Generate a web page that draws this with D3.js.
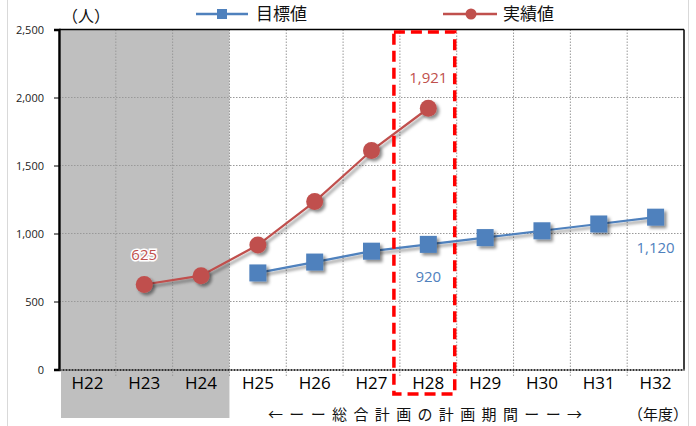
<!DOCTYPE html>
<html><head><meta charset="utf-8">
<script src="https://cdn.jsdelivr.net/npm/d3@7"></script>
<style>
body{margin:0;background:#fff;}
svg{display:block;}
text{font-family:"Noto Sans CJK JP","Noto Sans",sans-serif;}
</style></head>
<body>
<svg id="c" width="696" height="426"></svg>
<script>
const categories = ["H22","H23","H24","H25","H26","H27","H28","H29","H30","H31","H32"];
const targetValues = [null,null,null,710,790,870,920,970,1020,1070,1120];
const actualValues = [null,625,690,915,1235,1610,1921,null,null,null,null];
const yTicks = [0,500,1000,1500,2000,2500];
const shadedCategories = ["H22","H23","H24"];
const highlightCategory = "H28";
const targetLabels = [{cat:"H28", text:"920"},{cat:"H32", text:"1,120"}];
const actualLabels = [{cat:"H23", text:"625"},{cat:"H28", text:"1,921"}];

const blue = "#4F81BD", red = "#C0504D";
const svg = d3.select("#c");
const L = 59, R = 684, T = 29.5, B = 369.5;

const x = d3.scaleBand().domain(categories).range([L, R]);
const y = d3.scaleLinear().domain([0, 2500]).range([B, T]);

const defs = svg.append("defs");
const f = defs.append("filter").attr("id","sh").attr("x","-50%").attr("y","-50%").attr("width","200%").attr("height","200%");
f.append("feDropShadow").attr("dx",2.5).attr("dy",2.5).attr("stdDeviation",1.8).attr("flood-color","#000").attr("flood-opacity",0.45);

// outer border
svg.append("rect").attr("x",7.5).attr("y",-2).attr("width",681).attr("height",440).attr("fill","none").attr("stroke","#d9d9d9");

// shaded region
const s0 = x(shadedCategories[0]), s1 = x(shadedCategories[shadedCategories.length-1]) + x.bandwidth();
svg.append("rect").attr("x",s0+2).attr("y",T).attr("width",s1-s0-2).attr("height",418-T).attr("fill","#BFBFBF");

// grid
const g = svg.append("g");
yTicks.slice(1,-1).forEach(v=>{
  g.append("line").attr("x1",L).attr("x2",R).attr("y1",y(v)).attr("y2",y(v))
   .attr("stroke","#999").attr("stroke-dasharray","1.5,1.5").attr("stroke-width",1);
});
categories.slice(1).forEach(c=>{
  g.append("line").attr("x1",x(c)).attr("x2",x(c)).attr("y1",T).attr("y2",B+7)
   .attr("stroke","#999").attr("stroke-dasharray","1.5,1.5").attr("stroke-width",1);
});

// frame
svg.append("line").attr("x1",L).attr("x2",R).attr("y1",T).attr("y2",T).attr("stroke","#000").attr("stroke-width",1.5);
svg.append("line").attr("x1",R).attr("x2",R).attr("y1",T).attr("y2",B).attr("stroke","#000").attr("stroke-width",1.5);

// y axis
const yAxis = d3.axisLeft(y).tickValues(yTicks).tickSize(5).tickPadding(10).tickFormat(d3.format(","));
const ya = svg.append("g").attr("transform",`translate(${L},0)`).call(yAxis);
ya.select(".domain").attr("stroke","#000").attr("stroke-width",2.5);
ya.selectAll(".tick line").attr("stroke","#000");
ya.selectAll("text").attr("font-size",11).attr("fill","#222").style("font-family","'Open Sans',sans-serif");

// x axis
const xAxis = d3.axisBottom(x).tickSize(0).tickPadding(7);
const xa = svg.append("g").attr("transform",`translate(0,${B})`).call(xAxis);
xa.select(".domain").attr("stroke","#333").attr("stroke-width",2).attr("stroke-dasharray","2,1");
xa.selectAll("text").attr("font-size",17).attr("fill","#000").style("font-family","'Open Sans',sans-serif");

// lines
const line = d3.line().defined(d=>d.v!=null).x(d=>x(d.c)+x.bandwidth()/2).y(d=>y(d.v));
const tData = categories.map((c,i)=>({c, v:targetValues[i]}));
const aData = categories.map((c,i)=>({c, v:actualValues[i]}));

svg.append("path").datum(tData).attr("d",line).attr("fill","none").attr("stroke",blue).attr("stroke-width",2.2).attr("filter","url(#sh)");
svg.append("g").selectAll("rect").data(tData.filter(d=>d.v!=null)).join("rect")
  .attr("x",d=>x(d.c)+x.bandwidth()/2-8.5).attr("y",d=>y(d.v)-8.5).attr("width",17).attr("height",17)
  .attr("fill",blue).attr("filter","url(#sh)");

svg.append("path").datum(aData).attr("d",line).attr("fill","none").attr("stroke",red).attr("stroke-width",2.2).attr("filter","url(#sh)");
svg.append("g").selectAll("circle").data(aData.filter(d=>d.v!=null)).join("circle")
  .attr("cx",d=>x(d.c)+x.bandwidth()/2).attr("cy",d=>y(d.v)).attr("r",8.5)
  .attr("fill",red).attr("filter","url(#sh)");

// data labels
function lbl(arr, vals, col, dy){
  arr.forEach(l=>{
    const i = categories.indexOf(l.cat);
    svg.append("text").attr("x",x(l.cat)+x.bandwidth()/2).attr("y",y(vals[i])+dy)
      .attr("text-anchor","middle").attr("font-size",15).attr("fill",col)
      .attr("stroke","#fff").attr("stroke-width",3).attr("paint-order","stroke")
      .style("font-family","'Open Sans',sans-serif").text(l.text);
  });
}
lbl(actualLabels, actualValues, red, -25);
lbl(targetLabels.slice(0,1), targetValues, blue, 38);
lbl(targetLabels.slice(1), targetValues, blue, 36);

// highlight dashed rect
const hx = x(highlightCategory);
svg.append("rect").attr("x",hx-6).attr("y",32).attr("width",x.bandwidth()+4).attr("height",362)
  .attr("fill","none").attr("stroke","#FF0000").attr("stroke-width",3.5).attr("stroke-dasharray","11,6");

// y unit label
svg.append("text").attr("x",62).attr("y",22).attr("font-size",16).attr("fill","#111").text("（人）");

// legend
const lg = svg.append("g");
lg.append("line").attr("x1",196).attr("x2",248).attr("y1",14).attr("y2",14).attr("stroke",blue).attr("stroke-width",2.5);
lg.append("rect").attr("x",217).attr("y",9).attr("width",10).attr("height",10).attr("fill",blue);
lg.append("text").attr("x",256).attr("y",20).attr("font-size",17).attr("fill","#111").text("目標値");
lg.append("line").attr("x1",443).attr("x2",497).attr("y1",14).attr("y2",14).attr("stroke",red).attr("stroke-width",2.5);
lg.append("circle").attr("cx",471).attr("cy",14).attr("r",5.5).attr("fill",red);
lg.append("text").attr("x",503).attr("y",20).attr("font-size",17).attr("fill","#111").text("実績値");

// bottom labels
svg.append("text").attr("x",268).attr("y",420).attr("font-size",15).attr("fill","#111")
  .attr("textLength",314).attr("lengthAdjust","spacing").text("←ーー総合計画の計画期間ーー→");
svg.append("text").attr("x",628).attr("y",420).attr("font-size",15).attr("fill","#111").text("（年度）");
</script>
</body></html>
